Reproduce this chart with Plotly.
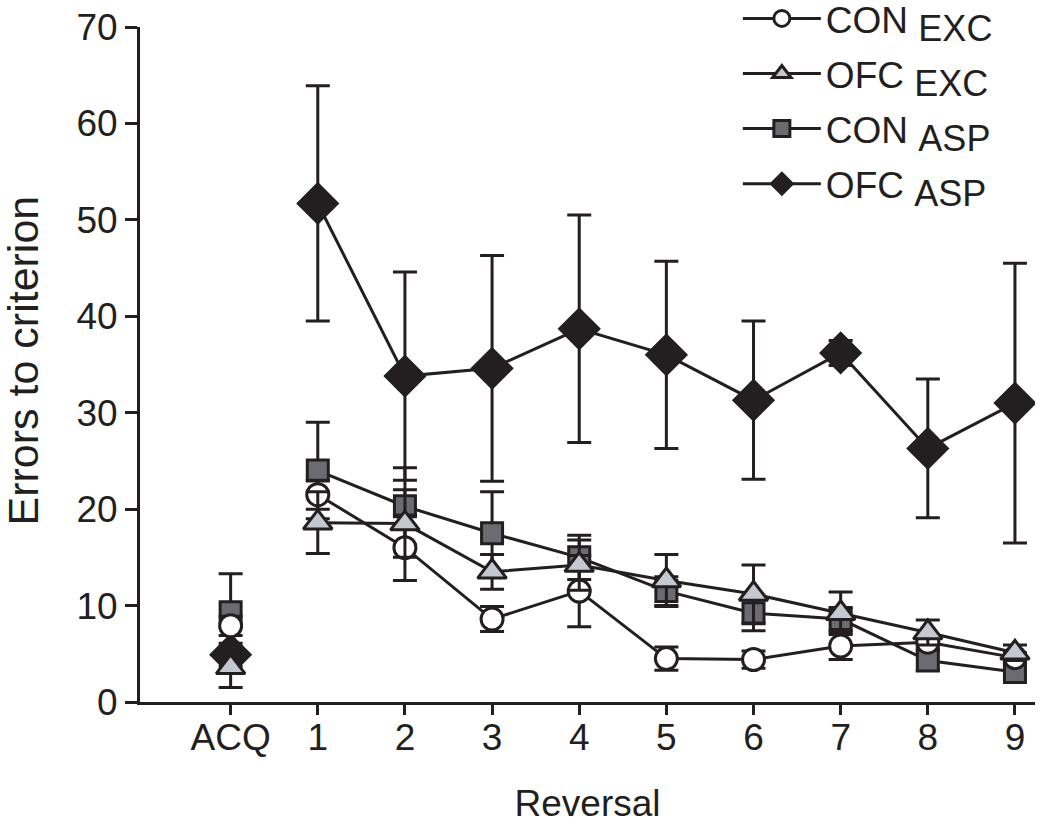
import plotly.graph_objects as go

# x positions: ACQ plotted at 0, reversals 1..9
x_pos = [0, 1, 2, 3, 4, 5, 6, 7, 8, 9]
tick_labels = ['ACQ', '1', '2', '3', '4', '5', '6', '7', '8', '9']

con_exc = [7.9, 21.5, 16.0, 8.6, 11.5, 4.5, 4.4, 5.8, 6.2, 4.6]
con_exc_err = [1.0, 1.5, 3.4, 1.3, 3.7, 1.2, 0.9, 1.4, 0.6, 0.5]

ofc_exc = [3.6, 18.6, 18.5, 13.5, 14.2, 12.6, 11.2, 9.2, 7.2, 5.1]
ofc_exc_err = [2.1, 3.2, 3.5, 1.8, 2.6, 2.7, 3.0, 2.2, 1.3, 0.8]

con_asp = [9.3, 24.0, 20.3, 17.5, 15.0, 11.5, 9.2, 8.6, 4.3, 3.1]
con_asp_err = [4.0, 5.0, 4.0, 4.3, 2.3, 1.5, 1.8, 1.2, 1.0, 0.8]

ofc_asp = [4.9, 51.7, 33.8, 34.6, 38.7, 36.0, 31.3, 36.2, 26.3, 31.0]
ofc_asp_err = [1.2, 12.2, 10.8, 11.7, 11.8, 9.7, 8.2, 1.3, 7.2, 14.5]

INK = '#231f20'


def label(main, sub):
    # subscript kept at full size, as in the original figure
    return f'{main} <sub><span style="font-size:36px">{sub}</span></sub>'


# (name, values, errors, symbol, fill, size, legend rank) -- drawn in this order
series = [
    (label('OFC', 'ASP'), ofc_asp, ofc_asp_err, 'diamond', INK, 30, 4),
    (label('CON', 'ASP'), con_asp, con_asp_err, 'square', '#6a6c6f', 21, 3),
    (label('CON', 'EXC'), con_exc, con_exc_err, 'circle', 'white', 22, 1),
    (label('OFC', 'EXC'), ofc_exc, ofc_exc_err, 'triangle-up', '#c3c8d1', 25, 2),
]

fig = go.Figure()
for name, vals, errs, symbol, fill, size, rank in series:
    # ACQ point is not joined to the reversal curve
    fig.add_trace(go.Scatter(
        x=x_pos[:1], y=vals[:1], mode='markers', showlegend=False,
        error_y=dict(type='data', array=errs[:1], color=INK, thickness=3, width=12),
        marker=dict(symbol=symbol, size=size, color=fill, line=dict(color=INK, width=3))))
    fig.add_trace(go.Scatter(
        x=x_pos[1:], y=vals[1:], mode='lines+markers', name=name, legendrank=rank,
        legendgroup=str(rank),
        line=dict(color=INK, width=3),
        error_y=dict(type='data', array=errs[1:], color=INK, thickness=3, width=12),
        marker=dict(symbol=symbol, size=size, color=fill, line=dict(color=INK, width=3))))

fig.update_layout(
    width=1050, height=824,
    margin=dict(l=140, r=15, t=27, b=122, autoexpand=False),
    paper_bgcolor='white', plot_bgcolor='white',
    font=dict(family='Liberation Sans, Arial, sans-serif', color=INK, size=28),
    legend=dict(x=0.668, y=1.058, xanchor='left', yanchor='top',
                bgcolor='rgba(0,0,0,0)', font=dict(size=37), itemwidth=78,
                tracegroupgap=4, itemsizing='trace'),
    xaxis=dict(range=[-1.04, 9.23], tickvals=x_pos, ticktext=tick_labels,
               showgrid=False, zeroline=False, showline=True, linecolor=INK, linewidth=3,
               ticks='outside', ticklen=10, tickwidth=3, tickcolor=INK,
               ticklabelstandoff=-9, tickfont=dict(size=37),
               title=dict(text='Reversal', font=dict(size=37), standoff=33)),
    yaxis=dict(range=[0, 70], tickvals=list(range(0, 71, 10)),
               showgrid=False, zeroline=False, showline=True, linecolor=INK, linewidth=3,
               ticks='outside', ticklen=12, tickwidth=3, tickcolor=INK,
               ticklabelstandoff=0, tickfont=dict(size=37)),
    annotations=[dict(text='Errors to criterion', textangle=-90, showarrow=False,
                      xref='paper', yref='paper', x=0, y=0.5, xanchor='center',
                      yanchor='middle', xshift=-118, yshift=4, font=dict(size=43))],
)

# drop the default page margin so the figure sits at the window's corner
fig.write_html('out.html', config={'displayModeBar': False},
               post_script="document.body.style.margin = '0';")
